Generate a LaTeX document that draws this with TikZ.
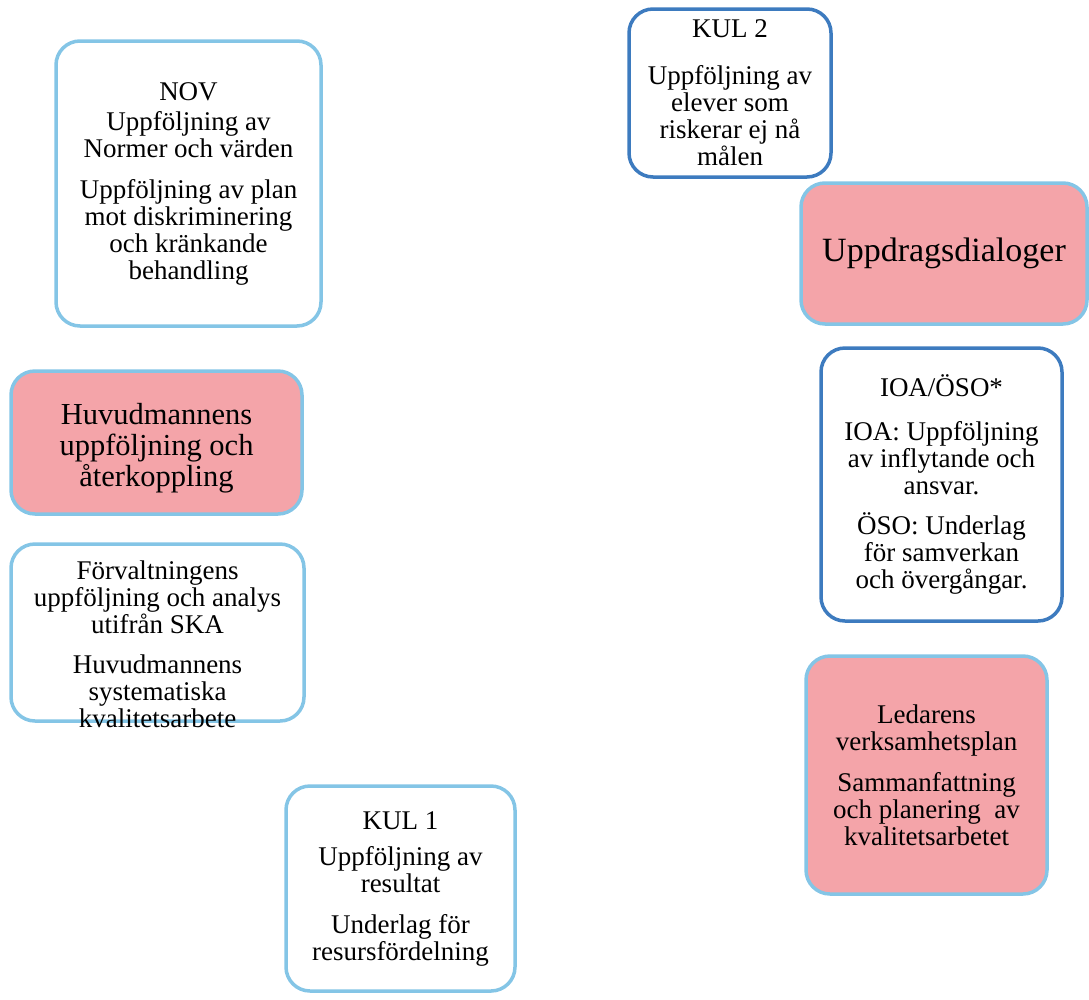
\documentclass[tikz,border=0pt]{standalone}
\usepackage{fontspec}
\setmainfont{Liberation Serif}
\definecolor{ljusbla}{HTML}{84C5E6}
\definecolor{morkbla}{HTML}{3D7BBF}
\definecolor{rosa}{HTML}{F4A4A9}
\tikzset{
  ruta/.style={draw=ljusbla, line width=3.5pt, rounded corners=24pt, fill=white, align=center,
    font=\fontsize{27}{27}\selectfont, inner sep=4pt},
  mork/.style={ruta, draw=morkbla},
  rosaruta/.style={ruta, fill=rosa}
}
\begin{document}
\begin{tikzpicture}[x=1pt,y=-1pt]
    \useasboundingbox (0,0) rectangle (1089,999);

\node[ruta, minimum width=265pt, minimum height=285pt] (nov) at (188.5,183.5)
  {NOV\\[3pt] Uppföljning av\\ Normer och värden\\[14pt] Uppföljning av plan\\ mot diskriminering\\ och kränkande\\ behandling};

\node[mork, minimum width=202pt, minimum height=168pt] (kul2) at (730,93)
  {KUL 2\\[20pt] Uppföljning av\\ elever som\\ riskerar ej nå\\ målen};

\node[rosaruta, minimum width=286pt, minimum height=141pt, font=\fontsize{34}{40}\selectfont] (uppdrag) at (944,253.5)
  {Uppdragsdialoger};

%  ruta och text var for sig, texten sitter lite lagre
\node[rosaruta, minimum width=291pt, minimum height=143pt] (huvud) at (156.5,442.5) {};
\node[align=center, font=\fontsize{30.5}{31}\selectfont] (huvudtext) at ([yshift=-6pt]huvud.center)
  {Huvudmannens\\ uppföljning och\\ återkoppling};

\node[ruta, minimum width=293pt, minimum height=177pt] (forv) at (157.5,632.5) {};
\node[align=center, font=\fontsize{27}{27}\selectfont] (forvtext) at ([yshift=-12pt]forv.center)
  {Förvaltningens\\ uppföljning och analys\\ utifrån SKA\\[13pt] Huvudmannens\\ systematiska\\ kvalitetsarbete};

\node[mork, minimum width=241pt, minimum height=273pt] (ioa) at (941.5,484.5)
  {IOA/ÖSO*\\[17pt] IOA: Uppföljning\\ av inflytande och\\ ansvar.\\[13pt] ÖSO: Underlag\\ för samverkan\\ och övergångar.};

\node[rosaruta, minimum width=241pt, minimum height=238pt] (ledare) at (926.5,775)
  {Ledarens\\ verksamhetsplan\\[14pt] Sammanfattning\\ och planering\ \ av\\ kvalitetsarbetet};

\node[ruta, minimum width=229pt, minimum height=205pt] (kul1) at (400.5,888.5)
  {KUL 1\\[9pt] Uppföljning av\\ resultat\\[14pt] Underlag för\\ resursfördelning};

\end{tikzpicture}
\end{document}
